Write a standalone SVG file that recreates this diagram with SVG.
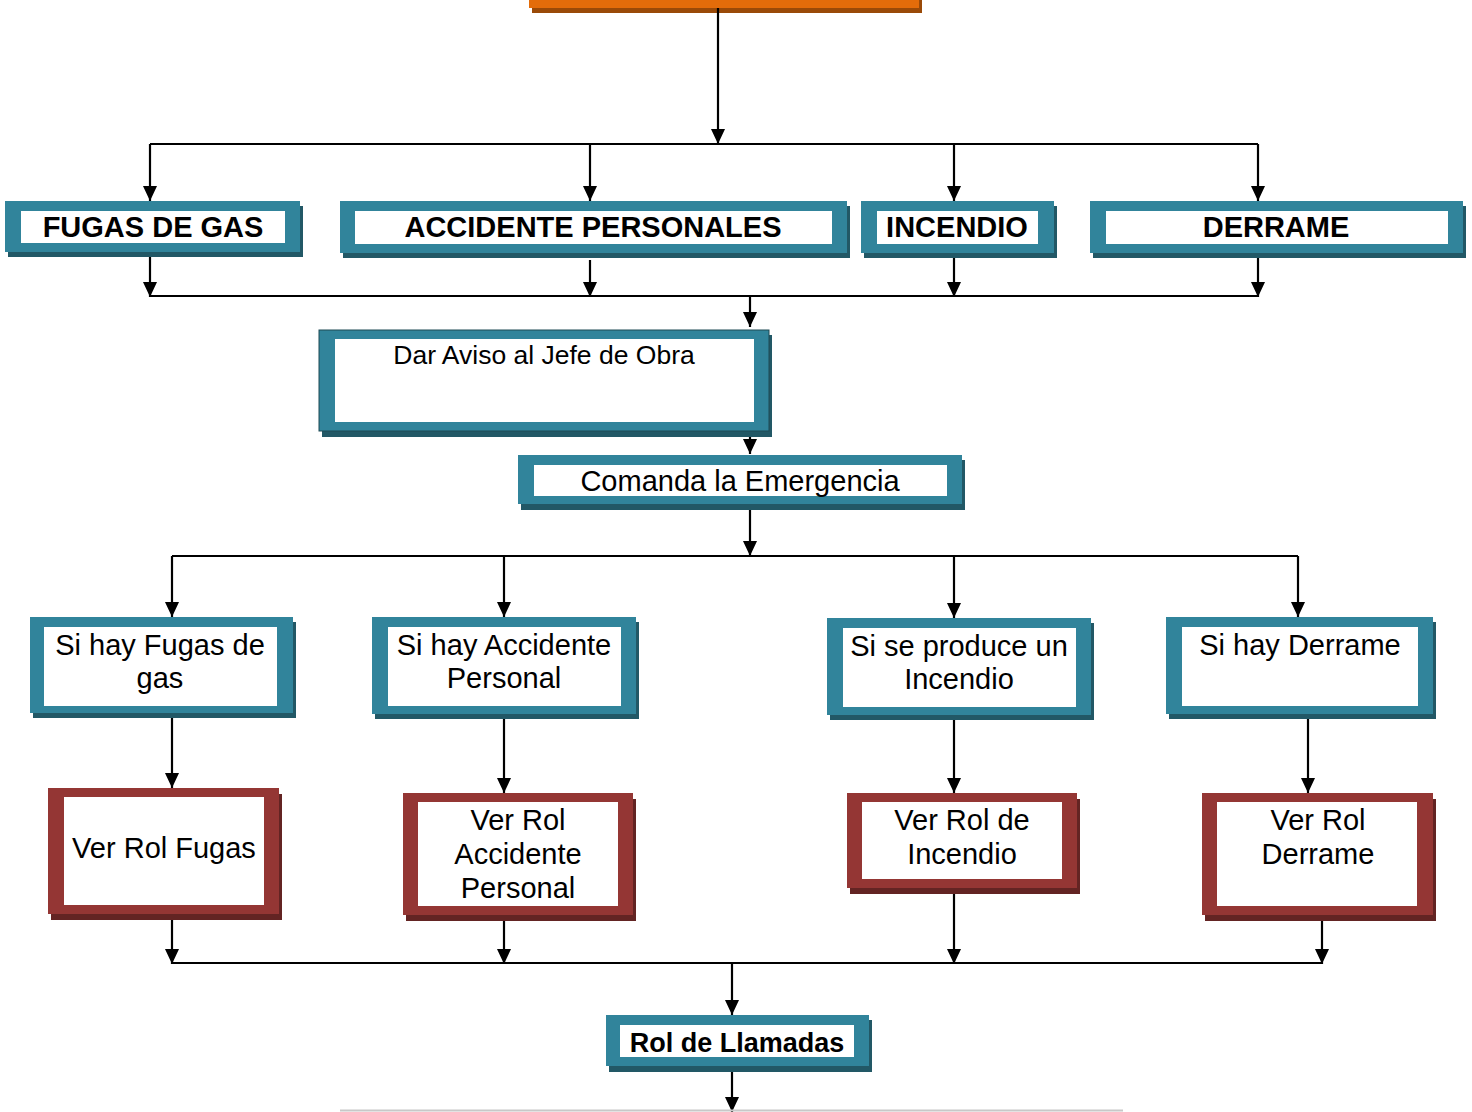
<svg xmlns="http://www.w3.org/2000/svg" width="1472" height="1112" viewBox="0 0 1472 1112">
<style>
.sh{fill:#225866}
.tb{fill:#31849b}
.rs{fill:#632423}
.rb{fill:#943634}
.in{fill:#ffffff}
.t{font-family:"Liberation Sans",Arial,sans-serif;font-size:29px;fill:#000;text-anchor:middle}
.b{font-weight:bold}
.c{fill:none;stroke:#000;stroke-width:2.2}
</style>
<defs>
<marker id="ah" viewBox="0 0 10 10" refX="10" refY="5" markerWidth="15" markerHeight="14" markerUnits="userSpaceOnUse" orient="auto" preserveAspectRatio="none">
<path d="M0,0 L10,5 L0,10 z" fill="#000"/>
</marker>
</defs>
<rect width="1472" height="1112" fill="#fff"/>

<g id="top">
<rect x="532" y="-17" width="390" height="30" fill="#9a4a08"/>
<rect x="529" y="-20" width="390" height="28" fill="#e36c0a"/>
</g>

<g id="connectors">
<path class="c" d="M718,8 V144" marker-end="url(#ah)"/>
<path class="c" d="M150,144 H1258"/>
<path class="c" d="M150,144 V201" marker-end="url(#ah)"/>
<path class="c" d="M590,144 V201" marker-end="url(#ah)"/>
<path class="c" d="M954,144 V201" marker-end="url(#ah)"/>
<path class="c" d="M1258,144 V201" marker-end="url(#ah)"/>
<path class="c" d="M150,256 V297" marker-end="url(#ah)"/>
<path class="c" d="M590,260 V297" marker-end="url(#ah)"/>
<path class="c" d="M954,256 V297" marker-end="url(#ah)"/>
<path class="c" d="M1258,256 V297" marker-end="url(#ah)"/>
<path class="c" d="M150,296 H1258"/>
<path class="c" d="M750,296 V327" marker-end="url(#ah)"/>
<path class="c" d="M750,436 V454" marker-end="url(#ah)"/>
<path class="c" d="M750,504 V556" marker-end="url(#ah)"/>
<path class="c" d="M172,556 H1298"/>
<path class="c" d="M172,556 V617" marker-end="url(#ah)"/>
<path class="c" d="M504,556 V617" marker-end="url(#ah)"/>
<path class="c" d="M954,556 V618" marker-end="url(#ah)"/>
<path class="c" d="M1298,556 V617" marker-end="url(#ah)"/>
<path class="c" d="M172,713 V788" marker-end="url(#ah)"/>
<path class="c" d="M504,714 V793" marker-end="url(#ah)"/>
<path class="c" d="M954,715 V793" marker-end="url(#ah)"/>
<path class="c" d="M1308,714 V793" marker-end="url(#ah)"/>
<path class="c" d="M172,914 V964" marker-end="url(#ah)"/>
<path class="c" d="M504,915 V964" marker-end="url(#ah)"/>
<path class="c" d="M954,888 V964" marker-end="url(#ah)"/>
<path class="c" d="M1322,915 V964" marker-end="url(#ah)"/>
<path class="c" d="M172,963 H1322"/>
<path class="c" d="M732,963 V1015" marker-end="url(#ah)"/>
<path class="c" d="M732,1066 V1112" marker-end="url(#ah)"/>
<path d="M340,1110.5 H1123" stroke="#c8c8c8" stroke-width="2" fill="none"/>
</g>

<g id="n-fugas">
<rect class="sh" x="8" y="206" width="295" height="51"/>
<rect class="tb" x="5" y="201" width="295" height="51"/>
<rect class="in" x="21" y="211" width="264" height="32"/>
<text class="t b" x="153" y="237">FUGAS DE GAS</text>
</g>
<g id="n-accidente">
<rect class="sh" x="343" y="206" width="507" height="52"/>
<rect class="tb" x="340" y="201" width="507" height="52"/>
<rect class="in" x="355" y="211" width="477" height="33"/>
<text class="t b" x="593" y="237">ACCIDENTE PERSONALES</text>
</g>
<g id="n-incendio">
<rect class="sh" x="864" y="206" width="193" height="52"/>
<rect class="tb" x="861" y="201" width="193" height="52"/>
<rect class="in" x="877" y="211" width="161" height="33"/>
<text class="t b" x="957" y="237">INCENDIO</text>
</g>
<g id="n-derrame">
<rect class="sh" x="1093" y="206" width="373" height="52"/>
<rect class="tb" x="1090" y="201" width="373" height="52"/>
<rect class="in" x="1106" y="211" width="342" height="33"/>
<text class="t b" x="1276" y="237">DERRAME</text>
</g>
<g id="n-aviso">
<rect class="sh" x="322" y="335" width="450" height="102"/>
<rect class="tb" x="319" y="330" width="450" height="101" stroke="#1e4a55" stroke-width="1"/>
<rect class="in" x="335" y="339" width="419" height="83"/>
<text class="t" x="544" y="364" style="font-size:26.5px">Dar Aviso al Jefe de Obra</text>
</g>
<g id="n-comanda">
<rect class="sh" x="521" y="460" width="444" height="50"/>
<rect class="tb" x="518" y="455" width="444" height="49"/>
<rect class="in" x="534" y="465" width="413" height="31"/>
<text class="t" x="740" y="491">Comanda la Emergencia</text>
</g>
<g id="n-si-fugas">
<rect class="sh" x="33" y="622" width="263" height="96"/>
<rect class="tb" x="30" y="617" width="263" height="96"/>
<rect class="in" x="44" y="627" width="233" height="79"/>
<text class="t" x="160" y="655">Si hay Fugas de</text>
<text class="t" x="160" y="688">gas</text>
</g>
<g id="n-si-accidente">
<rect class="sh" x="375" y="622" width="264" height="97"/>
<rect class="tb" x="372" y="617" width="264" height="97"/>
<rect class="in" x="388" y="627" width="233" height="79"/>
<text class="t" x="504" y="655">Si hay Accidente</text>
<text class="t" x="504" y="688">Personal</text>
</g>
<g id="n-si-incendio">
<rect class="sh" x="830" y="623" width="264" height="97"/>
<rect class="tb" x="827" y="618" width="264" height="97"/>
<rect class="in" x="843" y="628" width="233" height="79"/>
<text class="t" x="959" y="656">Si se produce un</text>
<text class="t" x="959" y="689">Incendio</text>
</g>
<g id="n-si-derrame">
<rect class="sh" x="1169" y="622" width="267" height="97"/>
<rect class="tb" x="1166" y="617" width="267" height="97"/>
<rect class="in" x="1182" y="627" width="236" height="79"/>
<text class="t" x="1300" y="655">Si hay Derrame</text>
</g>
<g id="n-rol-fugas">
<rect class="rs" x="51" y="794" width="231" height="126"/>
<rect class="rb" x="48" y="788" width="231" height="126"/>
<rect class="in" x="64" y="797" width="200" height="108"/>
<text class="t" x="164" y="858">Ver Rol Fugas</text>
</g>
<g id="n-rol-accidente">
<rect class="rs" x="406" y="799" width="230" height="122"/>
<rect class="rb" x="403" y="793" width="230" height="122"/>
<rect class="in" x="418" y="802" width="200" height="104"/>
<text class="t" x="518" y="830">Ver Rol</text>
<text class="t" x="518" y="864">Accidente</text>
<text class="t" x="518" y="898">Personal</text>
</g>
<g id="n-rol-incendio">
<rect class="rs" x="850" y="799" width="230" height="95"/>
<rect class="rb" x="847" y="793" width="230" height="95"/>
<rect class="in" x="862" y="802" width="200" height="77"/>
<text class="t" x="962" y="830">Ver Rol de</text>
<text class="t" x="962" y="864">Incendio</text>
</g>
<g id="n-rol-derrame">
<rect class="rs" x="1205" y="799" width="231" height="122"/>
<rect class="rb" x="1202" y="793" width="231" height="122"/>
<rect class="in" x="1217" y="802" width="200" height="104"/>
<text class="t" x="1318" y="830">Ver Rol</text>
<text class="t" x="1318" y="864">Derrame</text>
</g>
<g id="n-llamadas">
<rect class="sh" x="609" y="1020" width="263" height="52"/>
<rect class="tb" x="606" y="1015" width="263" height="51"/>
<rect class="in" x="620" y="1025" width="234" height="32"/>
<text class="t b" x="737" y="1052" style="font-size:27px">Rol de Llamadas</text>
</g>
</svg>
